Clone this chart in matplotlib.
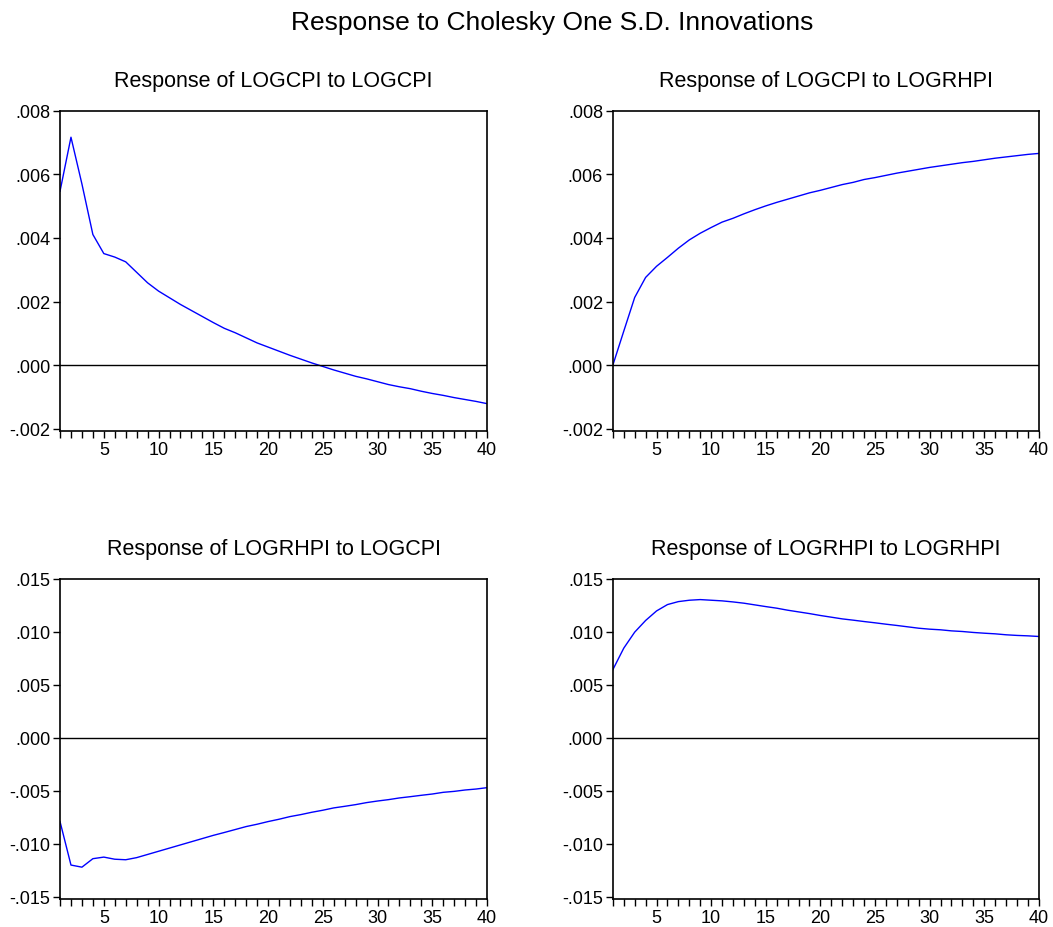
import numpy as np
import matplotlib
matplotlib.use("Agg")
import matplotlib.pyplot as plt
from matplotlib.ticker import FuncFormatter

plt.rcParams["font.family"] = ["Liberation Sans", "DejaVu Sans"]

# periods 1..40
periods = list(range(1, 41))

# Response of LOGCPI to LOGCPI (x 1e-3)
cpi_cpi = [5.47, 7.17, 5.70, 4.11, 3.51, 3.40, 3.25, 2.92, 2.59, 2.33,
           2.12, 1.91, 1.72, 1.53, 1.34, 1.16, 1.02, 0.86, 0.70, 0.57,
           0.44, 0.31, 0.19, 0.07, -0.04, -0.15, -0.25, -0.35, -0.43, -0.52,
           -0.61, -0.68, -0.74, -0.82, -0.89, -0.95, -1.02, -1.08, -1.14, -1.21]

# Response of LOGCPI to LOGRHPI
cpi_rhpi = [0.00, 1.07, 2.13, 2.76, 3.11, 3.39, 3.68, 3.94, 4.15, 4.33,
            4.50, 4.62, 4.76, 4.89, 5.01, 5.12, 5.22, 5.32, 5.42, 5.50,
            5.59, 5.68, 5.75, 5.84, 5.90, 5.97, 6.04, 6.10, 6.16, 6.22,
            6.27, 6.32, 6.37, 6.41, 6.46, 6.51, 6.55, 6.59, 6.63, 6.66]

# Response of LOGRHPI to LOGCPI
rhpi_cpi = [-7.9, -12.0, -12.2, -11.4, -11.25, -11.45, -11.5, -11.3, -11.0, -10.7,
            -10.4, -10.1, -9.8, -9.5, -9.2, -8.93, -8.65, -8.37, -8.15, -7.9,
            -7.68, -7.43, -7.24, -7.02, -6.83, -6.61, -6.46, -6.30, -6.11, -5.96,
            -5.83, -5.67, -5.55, -5.42, -5.30, -5.14, -5.05, -4.92, -4.83, -4.70]

# Response of LOGRHPI to LOGRHPI
rhpi_rhpi = [6.43, 8.46, 9.97, 11.07, 11.97, 12.57, 12.85, 12.98, 13.04, 12.98,
             12.92, 12.82, 12.70, 12.54, 12.38, 12.23, 12.04, 11.88, 11.72, 11.54,
             11.38, 11.22, 11.10, 10.97, 10.85, 10.72, 10.60, 10.47, 10.34, 10.25,
             10.19, 10.09, 10.03, 9.94, 9.87, 9.81, 9.72, 9.66, 9.62, 9.56]

small_ticks = [-0.002, 0.0, 0.002, 0.004, 0.006, 0.008]
big_ticks = [-0.015, -0.010, -0.005, 0.0, 0.005, 0.010, 0.015]

panels = [
    ("Response of LOGCPI to LOGCPI", cpi_cpi, [0.057, 0.5345, 0.4055, 0.345], (-0.00207, 0.008), small_ticks),
    ("Response of LOGCPI to LOGRHPI", cpi_rhpi, [0.582, 0.5345, 0.4046, 0.345], (-0.00207, 0.008), small_ticks),
    ("Response of LOGRHPI to LOGCPI", rhpi_cpi, [0.057, 0.0302, 0.4055, 0.345], (-0.0152, 0.015), big_ticks),
    ("Response of LOGRHPI to LOGRHPI", rhpi_rhpi, [0.582, 0.0302, 0.4046, 0.345], (-0.0152, 0.015), big_ticks),
]


def fmt(v, pos):
    if abs(v) < 1e-12:
        return ".000"
    return f"{v:.3f}".replace("0.", ".", 1)


fig = plt.figure(figsize=(10.53, 9.28), dpi=100)
fig.suptitle("Response to Cholesky One S.D. Innovations", fontsize=19, x=0.524, y=0.988)

for title, vals, pos, ylim, yticks in panels:
    ax = fig.add_axes(pos)
    ax.plot(periods, np.array(vals) / 1000.0, color="#0000ff", lw=1.0)
    ax.axhline(0, color="black", lw=1.0)
    ax.set_xlim(1, 40)
    ax.set_ylim(*ylim)
    ax.set_yticks(yticks)
    ax.yaxis.set_major_formatter(FuncFormatter(fmt))
    ax.set_xticks(periods)
    ax.set_xticklabels([str(p) if p % 5 == 0 else "" for p in periods])
    ax.tick_params(direction="out", length=5, width=1, labelsize=13, pad=2)
    for sp in ax.spines.values():
        sp.set_linewidth(1.2)
    ax.set_title(title, fontsize=15.5, pad=18)

fig.savefig("out.png", dpi=100)
